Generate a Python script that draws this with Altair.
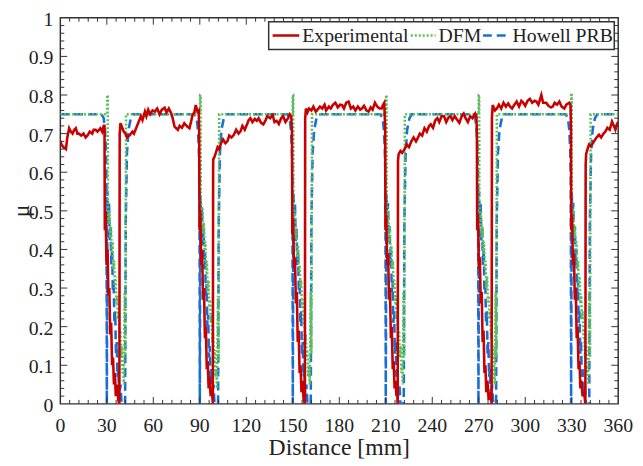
import altair as alt
import pandas as pd

# ---------------- data ----------------
exp_pts = [
    (0, 0.68), (1, 0.67), (2, 0.665), (3.6, 0.66), (4.5, 0.69), (5.7, 0.714), (6.8, 0.705), (7.9, 0.70),
    (9, 0.71), (10, 0.714), (11, 0.70), (12, 0.70), (13.5, 0.695), (15, 0.70), (16.3, 0.69), (17.5, 0.695),
    (19, 0.705), (20.6, 0.70), (21.5, 0.71), (22.7, 0.71), (24, 0.705), (25.8, 0.714), (27, 0.705), (28, 0.72),
    (28.5, 0.72),
    (28.7, 0.45), (29.2, 0.50), (29.8, 0.36), (30.5, 0.40), (31, 0.28), (31.6, 0.30), (32.2, 0.18), (32.8, 0.21),
    (33.4, 0.10), (34, 0.12), (34.6, 0.05), (35.2, 0.08), (35.8, 0.02), (36.6, 0.05), (37.4, 0.01), (38.1, 0.0),
    (38.3, 0.70), (38.8, 0.727), (39.5, 0.72), (40.8, 0.706), (42, 0.70), (43, 0.69), (45, 0.697), (46.5, 0.705),
    (47.5, 0.70), (49.3, 0.718), (50.5, 0.73), (52, 0.745), (53, 0.735), (54.6, 0.757), (55.5, 0.745),
    (56.7, 0.762), (58, 0.75), (59.5, 0.76), (61, 0.757), (62.5, 0.765), (64, 0.75), (65.5, 0.762), (67.3, 0.767),
    (68.5, 0.755), (70, 0.765), (71.6, 0.752), (72.5, 0.74), (73.7, 0.718), (75.8, 0.71), (77, 0.72),
    (78.5, 0.715), (80, 0.727), (81.5, 0.72), (83.3, 0.714), (84.3, 0.73), (85.3, 0.748), (86.5, 0.755),
    (87.4, 0.774), (88.5, 0.757), (89.3, 0.76), (89.6, 0.70),
    (89.8, 0.45), (90.3, 0.50), (90.9, 0.36), (91.5, 0.40), (92.1, 0.27), (92.7, 0.30), (93.3, 0.17), (93.9, 0.20),
    (94.5, 0.09), (95.1, 0.11), (95.7, 0.04), (96.3, 0.07), (97, 0.02), (97.8, 0.04), (98.4, 0.0),
    (98.6, 0.62), (98.7, 0.634), (99.5, 0.64), (100.4, 0.651), (101.5, 0.665), (102.5, 0.66), (103.5, 0.673),
    (105, 0.685), (106.5, 0.675), (107.8, 0.68), (109, 0.695), (110.5, 0.69), (112, 0.697), (113.5, 0.71),
    (115, 0.70), (116.3, 0.706), (117.5, 0.72), (119, 0.71), (120.5, 0.724), (121.5, 0.735), (122.6, 0.74),
    (124, 0.73), (125.5, 0.738), (126.8, 0.733), (128, 0.74), (129.5, 0.728), (131, 0.724), (132.5, 0.735),
    (133.5, 0.745), (135.4, 0.74), (137, 0.748), (138.2, 0.73), (139.6, 0.733), (141, 0.725), (142.5, 0.74),
    (143.8, 0.745), (145.3, 0.73), (147, 0.74), (148, 0.75), (149, 0.745), (149.5, 0.70),
    (149.7, 0.44), (150.2, 0.48), (150.8, 0.35), (151.4, 0.38), (152, 0.26), (152.6, 0.29), (153.2, 0.16),
    (153.8, 0.19), (154.4, 0.08), (155, 0.10), (155.6, 0.03), (156.3, 0.06), (157, 0.01), (157.8, 0.0),
    (158, 0.74), (158.5, 0.765), (159.5, 0.755), (160.5, 0.765), (162, 0.76), (163.3, 0.77), (164.8, 0.757),
    (166, 0.762), (167.5, 0.77), (169, 0.765), (170.5, 0.775), (171.5, 0.76), (173.3, 0.77), (174.5, 0.765),
    (176, 0.775), (177.5, 0.78), (179, 0.768), (180.5, 0.775), (181.8, 0.774), (183, 0.765), (184.5, 0.78),
    (186, 0.783), (187.5, 0.765), (189, 0.77), (190.4, 0.76), (192, 0.77), (193.5, 0.762), (194.6, 0.765),
    (196, 0.772), (197.5, 0.76), (198.9, 0.757), (200.3, 0.768), (201.5, 0.762), (203, 0.78), (204.5, 0.77),
    (206, 0.765), (207.4, 0.765), (208.3, 0.775), (209, 0.78), (209.6, 0.72),
    (209.8, 0.45), (210.3, 0.49), (210.9, 0.36), (211.5, 0.39), (212.1, 0.27), (212.7, 0.30), (213.3, 0.17),
    (213.9, 0.20), (214.5, 0.09), (215.1, 0.11), (215.7, 0.04), (216.3, 0.06), (216.9, 0.02), (217.4, 0.03),
    (217.7, 0.0),
    (217.9, 0.63), (218.3, 0.647), (219.5, 0.655), (220.5, 0.65), (222.2, 0.66), (223.5, 0.672), (225, 0.665),
    (226.5, 0.68), (228, 0.69), (229.5, 0.68), (230.7, 0.689), (232, 0.70), (233.5, 0.695), (235, 0.714),
    (236.5, 0.705), (238, 0.72), (239, 0.724), (240.5, 0.715), (242, 0.735), (243.3, 0.74), (244.5, 0.73),
    (246, 0.745), (247.6, 0.745), (249, 0.73), (250.5, 0.742), (251.8, 0.745), (253, 0.735), (254.5, 0.745),
    (256, 0.736), (257.5, 0.728), (259, 0.745), (260.3, 0.752), (261.5, 0.74), (263, 0.73), (264.5, 0.745),
    (266, 0.74), (267.7, 0.752), (268.5, 0.745), (268.8, 0.70),
    (269, 0.45), (269.5, 0.49), (270.1, 0.35), (270.7, 0.38), (271.3, 0.26), (271.9, 0.29), (272.5, 0.16),
    (273.1, 0.19), (273.7, 0.08), (274.3, 0.10), (274.9, 0.03), (275.6, 0.06), (276.4, 0.01), (277.5, 0.03),
    (278.3, 0.0),
    (278.5, 0.74), (279, 0.774), (280.5, 0.76), (281.7, 0.765), (283, 0.775), (284.5, 0.765), (286, 0.78),
    (287.5, 0.77), (289, 0.778), (290.2, 0.77), (291.5, 0.765), (293, 0.775), (294.5, 0.783), (296, 0.77),
    (297.5, 0.785), (298.7, 0.78), (300, 0.772), (301.5, 0.785), (303, 0.79), (304.5, 0.78), (306, 0.785),
    (307.2, 0.783), (308.5, 0.775), (310.4, 0.80), (311.5, 0.78), (313.5, 0.78), (315, 0.772), (316.5, 0.768),
    (317.8, 0.77), (319, 0.78), (320.5, 0.775), (322, 0.783), (323.5, 0.77), (325.2, 0.765), (326.5, 0.775),
    (328.4, 0.78), (329.2, 0.775), (329.5, 0.72),
    (329.7, 0.45), (330.2, 0.49), (330.8, 0.36), (331.4, 0.39), (332, 0.27), (332.6, 0.30), (333.2, 0.17),
    (333.8, 0.20), (334.4, 0.09), (335, 0.11), (335.6, 0.04), (336.3, 0.06), (337, 0.02), (338, 0.03),
    (338.8, 0.0),
    (339, 0.62), (339.3, 0.647), (340.2, 0.66), (341.2, 0.672), (342.5, 0.668), (344.4, 0.68), (346, 0.69),
    (347.6, 0.697), (349, 0.69), (350.5, 0.70), (351.8, 0.706), (353, 0.715), (354.5, 0.71), (356, 0.731),
    (357.2, 0.72), (358.2, 0.71), (359.2, 0.725), (360, 0.73),
]

dfm_pts = [
    (0, 0.75),
    (30.2, 0.75), (30.3, 0.80), (30.6, 0.80), (30.7, 0.52), (31.2, 0.47), (31.7, 0.50), (32.2, 0.43),
    (32.7, 0.46), (33.2, 0.39), (33.7, 0.42), (34.2, 0.35), (34.7, 0.37), (35.2, 0.30), (35.7, 0.33),
    (36.2, 0.26), (36.7, 0.28), (37.2, 0.22), (37.7, 0.24), (38.2, 0.17), (38.7, 0.19), (39.2, 0.12),
    (39.7, 0.15), (40.2, 0.08), (40.7, 0.10), (41.0, 0.05), (41.6, 0.29), (42.0, 0.12), (42.4, 0.75),
    (90.1, 0.75), (90.2, 0.80), (90.5, 0.80), (90.6, 0.53), (91.1, 0.48), (91.6, 0.51), (92.1, 0.44),
    (92.6, 0.47), (93.1, 0.40), (93.6, 0.42), (94.1, 0.34), (94.6, 0.37), (95.1, 0.29), (95.6, 0.32),
    (96.1, 0.25), (96.6, 0.27), (97.1, 0.21), (97.6, 0.23), (98.1, 0.16), (98.6, 0.18), (99.1, 0.11),
    (99.6, 0.14), (100.1, 0.07), (100.6, 0.09), (101.1, 0.04), (101.7, 0.28), (102.1, 0.11), (102.5, 0.75),
    (149.9, 0.75), (150.0, 0.80), (150.3, 0.80), (150.4, 0.52), (150.9, 0.47), (151.4, 0.50), (151.9, 0.43),
    (152.4, 0.45), (152.9, 0.38), (153.4, 0.41), (153.9, 0.34), (154.4, 0.36), (154.9, 0.30), (155.4, 0.32),
    (155.9, 0.25), (156.4, 0.27), (156.9, 0.21), (157.4, 0.23), (157.9, 0.16), (158.4, 0.18), (158.9, 0.12),
    (159.4, 0.14), (159.9, 0.07), (160.4, 0.10), (161.0, 0.05), (161.6, 0.29), (162.0, 0.13), (162.4, 0.75),
    (210.1, 0.75), (210.2, 0.80), (210.5, 0.80), (210.6, 0.52), (211.1, 0.47), (211.6, 0.50), (212.1, 0.42),
    (212.6, 0.46), (213.1, 0.39), (213.6, 0.41), (214.1, 0.35), (214.6, 0.37), (215.1, 0.30), (215.6, 0.32),
    (216.1, 0.26), (216.6, 0.28), (217.1, 0.22), (217.6, 0.24), (218.1, 0.17), (218.6, 0.19), (219.1, 0.12),
    (219.6, 0.15), (220.1, 0.08), (220.6, 0.10), (220.9, 0.05), (221.5, 0.29), (221.9, 0.12), (222.3, 0.75),
    (269.9, 0.75), (270.0, 0.80), (270.3, 0.80), (270.4, 0.52), (270.9, 0.47), (271.4, 0.50), (271.9, 0.43),
    (272.4, 0.46), (272.9, 0.39), (273.4, 0.42), (273.9, 0.35), (274.4, 0.37), (274.9, 0.30), (275.4, 0.33),
    (275.9, 0.26), (276.4, 0.28), (276.9, 0.22), (277.4, 0.24), (277.9, 0.17), (278.4, 0.19), (278.9, 0.12),
    (279.4, 0.15), (279.9, 0.08), (280.2, 0.06), (280.4, 0.05), (280.9, 0.29), (281.3, 0.12), (281.7, 0.75),
    (329.6, 0.75), (329.7, 0.80), (330.0, 0.80), (330.1, 0.52), (330.6, 0.47), (331.1, 0.50), (331.6, 0.43),
    (332.1, 0.46), (332.6, 0.39), (333.1, 0.42), (333.6, 0.35), (334.1, 0.37), (334.6, 0.30), (335.1, 0.33),
    (335.6, 0.26), (336.1, 0.28), (336.6, 0.22), (337.1, 0.24), (337.6, 0.17), (338.1, 0.19), (338.6, 0.12),
    (339.1, 0.15), (339.6, 0.08), (340.1, 0.10), (340.8, 0.05), (341.4, 0.29), (341.8, 0.12), (342.2, 0.75),
    (360, 0.75),
]

prb_pts = [
    (0, 0.75), (26.5, 0.75), (28.0, 0.74), (28.8, 0.71), (29.4, 0.66), (29.8, 0.58), (30.0, 0.0), (30.4, 0.55),
    (30.9, 0.47), (31.4, 0.52), (31.9, 0.42), (32.4, 0.46), (32.9, 0.36), (33.4, 0.40), (33.9, 0.29),
    (34.4, 0.32), (34.9, 0.21), (35.4, 0.24), (35.9, 0.13), (36.4, 0.16), (36.9, 0.07), (37.4, 0.09),
    (38.0, 0.02), (38.8, 0.05), (39.5, 0.0), (41.8, 0.0), (42.2, 0.47), (43.0, 0.65), (44.0, 0.71),
    (45.5, 0.74), (47.0, 0.75),
    (86.5, 0.75), (88.0, 0.74), (88.8, 0.71), (89.4, 0.66), (89.8, 0.58), (90.0, 0.0), (90.4, 0.54),
    (90.9, 0.47), (91.4, 0.51), (91.9, 0.41), (92.4, 0.45), (92.9, 0.35), (93.4, 0.39), (93.9, 0.28),
    (94.4, 0.31), (94.9, 0.20), (95.4, 0.23), (95.9, 0.12), (96.4, 0.15), (96.9, 0.06), (97.4, 0.09),
    (98.0, 0.02), (98.8, 0.05), (99.5, 0.0), (101.8, 0.0), (102.2, 0.47), (103.0, 0.65), (104.0, 0.71),
    (105.5, 0.74), (107.0, 0.75),
    (146.5, 0.75), (148.0, 0.74), (148.8, 0.71), (149.4, 0.66), (149.8, 0.58), (150.0, 0.0), (150.4, 0.55),
    (150.9, 0.48), (151.4, 0.52), (151.9, 0.42), (152.4, 0.46), (152.9, 0.36), (153.4, 0.40), (153.9, 0.29),
    (154.4, 0.32), (154.9, 0.21), (155.4, 0.24), (155.9, 0.13), (156.4, 0.16), (156.9, 0.07), (157.4, 0.09),
    (158.0, 0.02), (158.8, 0.05), (159.5, 0.0), (161.6, 0.0), (162.0, 0.47), (162.8, 0.65), (163.8, 0.71),
    (165.3, 0.74), (166.8, 0.75),
    (206.5, 0.75), (208.0, 0.74), (208.8, 0.71), (209.4, 0.66), (209.8, 0.58), (210.0, 0.0), (210.4, 0.55),
    (210.9, 0.47), (211.4, 0.52), (211.9, 0.42), (212.4, 0.46), (212.9, 0.36), (213.4, 0.40), (213.9, 0.29),
    (214.4, 0.32), (214.9, 0.21), (215.4, 0.24), (215.9, 0.13), (216.4, 0.16), (216.9, 0.07), (217.4, 0.09),
    (218.0, 0.02), (218.8, 0.05), (219.5, 0.0), (221.6, 0.0), (222.0, 0.47), (222.8, 0.65), (223.8, 0.71),
    (225.3, 0.74), (226.8, 0.75),
    (266.3, 0.75), (267.8, 0.74), (268.6, 0.71), (269.2, 0.66), (269.6, 0.58), (269.8, 0.0), (270.2, 0.55),
    (270.7, 0.47), (271.2, 0.52), (271.7, 0.42), (272.2, 0.46), (272.7, 0.36), (273.2, 0.40), (273.7, 0.29),
    (274.2, 0.32), (274.7, 0.21), (275.2, 0.24), (275.7, 0.13), (276.2, 0.16), (276.7, 0.07), (277.2, 0.09),
    (277.8, 0.02), (278.6, 0.05), (279.3, 0.0), (281.2, 0.0), (281.6, 0.47), (282.4, 0.65), (283.4, 0.71),
    (284.9, 0.74), (286.4, 0.75),
    (326.1, 0.75), (327.6, 0.74), (328.4, 0.71), (329.0, 0.66), (329.4, 0.58), (329.6, 0.0), (330.0, 0.55),
    (330.5, 0.47), (331.0, 0.52), (331.5, 0.42), (332.0, 0.46), (332.5, 0.36), (333.0, 0.40), (333.5, 0.29),
    (334.0, 0.32), (334.5, 0.21), (335.0, 0.24), (335.5, 0.13), (336.0, 0.16), (336.5, 0.07), (337.0, 0.09),
    (337.6, 0.02), (338.4, 0.05), (339.1, 0.0), (341.3, 0.0), (341.7, 0.47), (342.5, 0.65), (343.5, 0.71),
    (345.0, 0.74), (346.5, 0.75), (360, 0.75),
]

series_names = ["Experimental", "DFM", "Howell PRB"]
series_colors = ["#c80000", "#5cbf5c", "#1a6fd6"]
series_dashes = [[1, 0], [2, 2], [9, 5]]

x_major = [0, 30, 60, 90, 120, 150, 180, 210, 240, 270, 300, 330, 360]
x_minor = [v for v in range(0, 361, 6) if v % 30 != 0]
y_major = [0, 0.1, 0.2, 0.3, 0.4, 0.5, 0.6, 0.7, 0.8, 0.9, 1.0]
y_labels = ["0", "0.1", "0.2", "0.3", "0.4", "0.5", "0.6", "0.7", "0.8", "0.9", "1"]
y_minor = [round(i * 0.02, 2) for i in range(51) if i % 5 != 0]
x_title = "Distance [mm]"
y_title = "μ"

W, H = 565, 391
FONT = "Liberation Serif"
TXT = "#222222"
TICK = "#333333"

# ---------------- tables ----------------
rows = []
for name, pts in zip(series_names, [exp_pts, dfm_pts, prb_pts]):
    for i, (x, y) in enumerate(pts):
        rows.append({"series": name, "x": x, "y": y, "i": i})
df = pd.DataFrame(rows)

xscale = alt.Scale(domain=[0, 360], nice=False, zero=False)
yscale = alt.Scale(domain=[0, 1], nice=False, zero=False)
cscale = alt.Scale(domain=series_names, range=series_colors)
dscale = alt.Scale(domain=series_names, range=series_dashes)

grid_x = alt.Axis(values=x_major, labels=False, ticks=False, domain=False, title=None, grid=True)
grid_y = alt.Axis(values=y_major, labels=False, ticks=False, domain=False, title=None, grid=True)


def series_layer(name, width):
    return alt.Chart(df).transform_filter(alt.datum.series == name).mark_line(
        strokeWidth=width, clip=True
    ).encode(
        x=alt.X("x:Q", scale=xscale, axis=grid_x),
        y=alt.Y("y:Q", scale=yscale, axis=grid_y),
        order="i:Q",
        color=alt.Color("series:N", scale=cscale, legend=None),
        strokeDash=alt.StrokeDash("series:N", scale=dscale, legend=None),
    )


layers = [
    series_layer("Howell PRB", 2.6),
    series_layer("DFM", 2.6),
    series_layer("Experimental", 2.6),
]

# ---- inward ticks on all four sides ----
xmaj = pd.DataFrame({"v": x_major[1:-1]})
xmin = pd.DataFrame({"v": x_minor})
ymaj = pd.DataFrame({"v": y_major[1:-1]})
ymin = pd.DataFrame({"v": y_minor})


def xticks(d, length):
    bot = alt.Chart(d).mark_rule(color=TICK, strokeWidth=1).encode(
        x=alt.X("v:Q", scale=xscale, axis=None), y=alt.value(H), y2=alt.value(H - length))
    top = alt.Chart(d).mark_rule(color=TICK, strokeWidth=1).encode(
        x=alt.X("v:Q", scale=xscale, axis=None), y=alt.value(0), y2=alt.value(length))
    return [bot, top]


def yticks(d, length):
    left = alt.Chart(d).mark_rule(color=TICK, strokeWidth=1).encode(
        y=alt.Y("v:Q", scale=yscale, axis=None), x=alt.value(0), x2=alt.value(length))
    right = alt.Chart(d).mark_rule(color=TICK, strokeWidth=1).encode(
        y=alt.Y("v:Q", scale=yscale, axis=None), x=alt.value(W), x2=alt.value(W - length))
    return [left, right]


tick_layers = xticks(xmaj, 7) + xticks(xmin, 4) + yticks(ymaj, 7) + yticks(ymin, 4)

# ---- tick labels and titles as text (serif font) ----
xlab = alt.Chart(pd.DataFrame({"v": x_major, "t": [str(v) for v in x_major]})).mark_text(
    font=FONT, fontSize=20, color=TXT, align="center", baseline="alphabetic"
).encode(x=alt.X("v:Q", scale=xscale, axis=None), y=alt.value(H + 28), text="t:N")

ylab = alt.Chart(pd.DataFrame({"v": y_major, "t": y_labels})).mark_text(
    font=FONT, fontSize=20, color=TXT, align="right", baseline="middle", dy=2
).encode(y=alt.Y("v:Q", scale=yscale, axis=None), x=alt.value(-7), text="t:N")

xtit = alt.Chart(pd.DataFrame({"t": [x_title]})).mark_text(
    font=FONT, fontSize=24, color=TXT, align="center", baseline="alphabetic"
).encode(x=alt.value(W / 2), y=alt.value(H + 52), text="t:N")

ytit = alt.Chart(pd.DataFrame({"t": [y_title]})).mark_text(
    font=FONT, fontSize=24, color=TXT, align="center", baseline="middle", angle=270
).encode(x=alt.value(-39), y=alt.value(H / 2), text="t:N")

# ---- legend box (top right, inside the plot) ----
leg_box = alt.Chart(pd.DataFrame({"k": [0]})).mark_rect(
    fill="white", stroke=TICK, strokeWidth=1.5
).encode(x=alt.value(211), x2=alt.value(561), y=alt.value(4), y2=alt.value(32))

leg_sym_x = [(215, 242), (355, 380), (428, 455)]
leg_txt_x = [245, 383, 458]
leg_layers = [leg_box]
for name, col, dash, (a, b), tx in zip(series_names, series_colors, series_dashes, leg_sym_x, leg_txt_x):
    d = pd.DataFrame({"t": [name]})
    leg_layers.append(alt.Chart(d).mark_rule(color=col, strokeWidth=2.6, strokeDash=dash).encode(
        x=alt.value(a), x2=alt.value(b), y=alt.value(18)))
    leg_layers.append(alt.Chart(d).mark_text(
        font=FONT, fontSize=20, color=TXT, align="left", baseline="middle", dy=1
    ).encode(x=alt.value(tx), y=alt.value(18), text="t:N"))

chart = alt.layer(*layers, *tick_layers, xlab, ylab, xtit, ytit, *leg_layers).properties(
    width=W, height=H,
    autosize=alt.AutoSizeParams(type="none"),
    padding={"left": 53, "top": 7, "right": 17, "bottom": 60},
).configure_view(
    stroke=TICK, strokeWidth=1.5
).configure_axis(
    gridColor="#cccccc", gridDash=[1, 2], gridWidth=1,
)

chart.save("out.html", embed_options={"renderer": "svg", "actions": False})
